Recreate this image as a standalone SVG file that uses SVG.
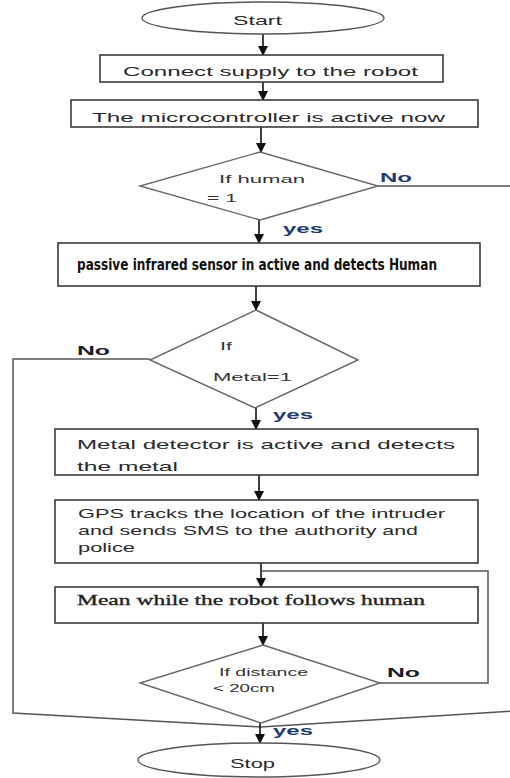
<svg xmlns="http://www.w3.org/2000/svg" width="510" height="778" viewBox="0 0 510 778">
<defs>
<marker id="ah" markerWidth="10" markerHeight="10" refX="9" refY="5" orient="auto" markerUnits="userSpaceOnUse">
<path d="M0,0 L10,5 L0,10 Z" fill="#111"/>
</marker>
<style>
.box{fill:#fff;stroke:#3a3a3a;stroke-width:1.6}
.dia{fill:#fff;stroke:#666;stroke-width:1.4}
.term{fill:#fff;stroke:#555;stroke-width:1.4}
.ln{fill:none;stroke:#555;stroke-width:1.5}
.ar{fill:none;stroke:#111;stroke-width:1.6;marker-end:url(#ah)}
.t{font-family:"Liberation Sans","DejaVu Sans",sans-serif;font-size:13px;fill:#2a2a2a}
.s{font-family:"Liberation Sans","DejaVu Sans",sans-serif;font-size:11px;fill:#333}
.n{font-family:"Liberation Sans Narrow","DejaVu Sans Condensed","Liberation Sans",sans-serif;font-size:15px;font-weight:bold;fill:#111}
.sr{font-family:"Liberation Serif","DejaVu Serif",serif;font-size:14px;fill:#222;stroke:#222;stroke-width:0.3}
.lb{font-family:"Liberation Sans","DejaVu Sans",sans-serif;font-size:13px;font-weight:bold;fill:#233a6e}
.lk{font-family:"Liberation Sans","DejaVu Sans",sans-serif;font-size:13px;font-weight:bold;fill:#1a1a2a}
</style>
</defs>
<rect width="510" height="778" fill="#fff"/>

<g id="connectors">
<line class="ar" x1="263" y1="34" x2="263" y2="55"/>
<line class="ar" x1="263" y1="82" x2="263" y2="100"/>
<line class="ar" x1="261" y1="127" x2="261" y2="152"/>
<polyline class="ln" points="378,186 512,186"/>
<line class="ar" x1="259" y1="220" x2="259" y2="243"/>
<line class="ar" x1="256" y1="286" x2="256" y2="310"/>
<polyline class="ln" points="150,359 13,359 13,713 261,727"/>
<polyline class="ln" points="512,711 261,727"/>
<line class="ar" x1="256" y1="408" x2="256" y2="429"/>
<line class="ar" x1="259" y1="475" x2="259" y2="500"/>
<line class="ar" x1="261" y1="563" x2="261" y2="587"/>
<polyline class="ln" points="380,683 488,683 488,571 261,571"/>
<line class="ar" x1="263" y1="623" x2="263" y2="645"/>
<line class="ar" x1="260" y1="723" x2="260" y2="743"/>
</g>

<g id="start">
<ellipse class="term" cx="263" cy="18" rx="121" ry="16"/>
<text class="t" x="233" y="25" font-size="12" textLength="49" lengthAdjust="spacingAndGlyphs">Start</text>
</g>

<g id="supply">
<rect class="box" x="100" y="55" width="343" height="27"/>
<text class="t" x="123" y="76" textLength="295" lengthAdjust="spacingAndGlyphs">Connect supply to the robot</text>
</g>

<g id="micro">
<rect class="box" x="71" y="100" width="407" height="27"/>
<text class="t" x="92" y="122" textLength="353" lengthAdjust="spacingAndGlyphs">The microcontroller is active now</text>
</g>

<g id="ifhuman">
<polygon class="dia" points="260,152 378,186 260,220 140,186"/>
<text class="s" x="219" y="183" textLength="86" lengthAdjust="spacingAndGlyphs">If human</text>
<text class="s" x="207" y="202" textLength="30" lengthAdjust="spacingAndGlyphs">= 1</text>
<text class="lb" x="380" y="182" textLength="32" lengthAdjust="spacingAndGlyphs">No</text>
<text class="lb" x="283" y="233" textLength="40" lengthAdjust="spacingAndGlyphs">yes</text>
</g>

<g id="pir">
<rect class="box" x="58" y="243" width="422" height="43"/>
<text class="n" x="77" y="270" textLength="360" lengthAdjust="spacingAndGlyphs">passive infrared sensor in active and detects Human</text>
</g>

<g id="ifmetal">
<polygon class="dia" points="256,310 358,360 255,408 150,360"/>
<text class="s" x="220" y="350" textLength="12" lengthAdjust="spacingAndGlyphs">If</text>
<text class="s" x="213" y="381" textLength="79" lengthAdjust="spacingAndGlyphs">Metal=1</text>
<text class="lk" x="77" y="355" textLength="33" lengthAdjust="spacingAndGlyphs">No</text>
<text class="lb" x="273" y="419" textLength="40" lengthAdjust="spacingAndGlyphs">yes</text>
</g>

<g id="metaldet">
<rect class="box" x="55" y="429" width="423" height="46"/>
<text class="t" x="77" y="449" textLength="378" lengthAdjust="spacingAndGlyphs">Metal detector is active and detects</text>
<text class="t" x="77" y="471" textLength="101" lengthAdjust="spacingAndGlyphs">the metal</text>
</g>

<g id="gps">
<rect class="box" x="55" y="500" width="423" height="63"/>
<text class="t" x="78" y="518" textLength="367" lengthAdjust="spacingAndGlyphs">GPS tracks the location of the intruder</text>
<text class="t" x="78" y="535" textLength="340" lengthAdjust="spacingAndGlyphs">and sends SMS to the authority and</text>
<text class="t" x="78" y="552" textLength="57" lengthAdjust="spacingAndGlyphs">police</text>
</g>

<g id="follow">
<rect class="box" x="55" y="587" width="423" height="36"/>
<text class="sr" x="77" y="605" textLength="348" lengthAdjust="spacingAndGlyphs">Mean while the robot follows human</text>
</g>

<g id="ifdist">
<polygon class="dia" points="263,645 380,683 261,723 140,683"/>
<text class="s" x="219" y="676" textLength="89" lengthAdjust="spacingAndGlyphs">If distance</text>
<text class="s" x="213" y="692" textLength="62" lengthAdjust="spacingAndGlyphs">&lt; 20cm</text>
<text class="lk" x="387" y="677" textLength="33" lengthAdjust="spacingAndGlyphs">No</text>
<text class="lb" x="273" y="735" textLength="40" lengthAdjust="spacingAndGlyphs">yes</text>
</g>

<g id="stop">
<ellipse class="term" cx="259" cy="760" rx="121" ry="17"/>
<text class="t" x="230" y="768" font-size="12" textLength="45" lengthAdjust="spacingAndGlyphs">Stop</text>
</g>
</svg>
